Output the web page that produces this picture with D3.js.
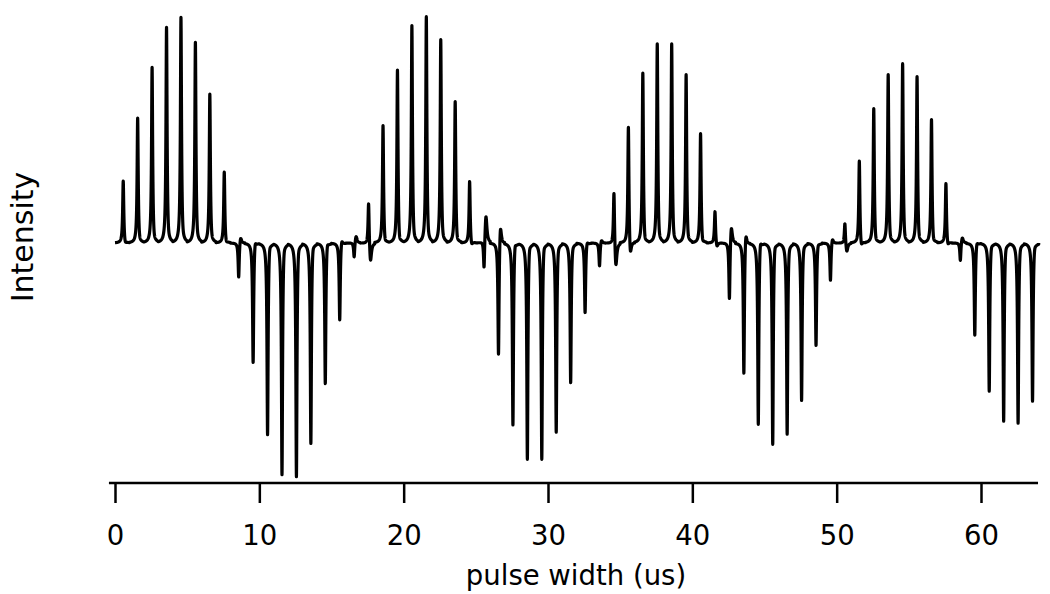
<!DOCTYPE html>
<html>
<head>
<meta charset="utf-8">
<script src="https://cdn.jsdelivr.net/npm/d3@7"></script>
<style>
  html, body { margin: 0; padding: 0; background: #fff; }
  svg { display: block; }
  text { font-family: "DejaVu Sans", sans-serif; fill: #000; }
</style>
</head>
<body>
<svg id="chart" width="1050" height="594"></svg>
<script>
// ---- Data ----
// Pulse width index of each spectrum (us); each spectrum occupies one 1-us slot.
const pulseSlots = d3.range(0, 64);
// Main peak intensity of each spectrum (arbitrary units, max ~100)
const peakIntensity = [
  27.8, 55.5, 78.0, 95.6, 100.0, 89.0, 66.1, 31.7,
  -15.9, -53.7, -85.5, -103.1, -104.0, -89.4, -63.0, -34.8,
  -7.0, 19.8, 52.4, 77.1, 96.5, 100.4, 90.3, 63.0,
  27.8, -14.1, -52.0, -81.5, -96.5, -96.5, -84.1, -62.1,
  -31.3, -10.6, 25.1, 53.3, 75.8, 88.5, 88.5, 74.9,
  48.9, 14.5, -26.9, -59.5, -81.5, -89.9, -85.0, -70.0,
  -45.8, -17.2, 9.7, 37.0, 59.9, 74.9, 79.7, 74.0,
  55.1, 26.9, -8.4, -41.4, -66.1, -79.3, -80.2, -70.5
];
// Small phase-distortion side lobe of each spectrum (arbitrary units)
const sideLobe = [
  -1.8, -1.8, -2.2, -2.2, -2.2, -2.2, -1.8, -1.8,
  3.5, 4.0, 4.0, 4.0, 4.0, 4.0, 4.0, 3.5,
  3.5, -9.5, -2.6, -3.5, -2.6, -2.6, -2.6, -2.6,
  -2.6, 13.0, 11.0, 5.0, 4.5, 4.5, 3.0, 2.0,
  2.5, 2.0, -12.0, -8.5, -3.5, -2.6, -2.6, -2.6,
  -2.6, -2.6, 9.0, 8.0, 6.0, 4.5, 3.0, 2.5,
  2.5, 3.0, -4.5, -3.5, -2.6, -2.6, -2.6, -2.6,
  -2.6, -2.6, 3.0, 3.0, 3.0, 3.0, 3.0, 3.0
];
const xTicks = [0, 10, 20, 30, 40, 50, 60];
const xLabel = "pulse width (us)";
const yLabel = "Intensity";

// ---- Rendering ----
const svg = d3.select("#chart");
const x = d3.scaleLinear().domain([0, 60]).range([115, 981]);
const y = d3.scaleLinear().domain([-105.7, 100]).range([483, 16]);

// spectral line shape (Lorentzian) used to draw each spectrum in its slot
const peakPos = 0.57, sidePos = 0.70, wMain = 0.045, wSide = 0.08, step = 0.005;
const lor = (dx, w) => (w * w) / (w * w + dx * dx);
const trace = [];
pulseSlots.forEach((i, k) => {
  const n = Math.round(1 / step);
  for (let s = 0; s < n; s++) {
    const t = s * step;
    const v = peakIntensity[k] * lor(t - peakPos, wMain) + sideLobe[k] * lor(t - sidePos, wSide);
    trace.push([i + t, v]);
  }
});
trace.push([64, 0]);

svg.append("path")
  .datum(trace)
  .attr("fill", "none")
  .attr("stroke", "#000")
  .attr("stroke-width", 3.2)
  .attr("stroke-linejoin", "round")
  .attr("d", d3.line().x(d => x(d[0])).y(d => y(d[1])));

// x axis
const axisY = 483;
const axis = d3.axisBottom(x).tickValues(xTicks).tickSize(20).tickFormat(d3.format("d"));
const gx = svg.append("g").attr("transform", `translate(0,${axisY})`).call(axis);
gx.select(".domain").remove();
gx.selectAll(".tick line").attr("stroke", "#000").attr("stroke-width", 2.5);
gx.selectAll(".tick text").attr("y", 62).attr("dy", 0)
  .style("font-size", "27.5px").style("font-family", "'DejaVu Sans', sans-serif").attr("fill", "#000");
svg.append("line")
  .attr("x1", x(-0.42)).attr("x2", x(63.95))
  .attr("y1", axisY).attr("y2", axisY)
  .attr("stroke", "#000").attr("stroke-width", 2.5);

svg.append("text")
  .attr("x", 576).attr("y", 585)
  .attr("text-anchor", "middle")
  .style("font-size", "27.5px")
  .text(xLabel);

svg.append("text")
  .attr("transform", "translate(33,237) rotate(-90)")
  .attr("text-anchor", "middle")
  .style("font-size", "30px")
  .text(yLabel);
</script>
</body>
</html>
